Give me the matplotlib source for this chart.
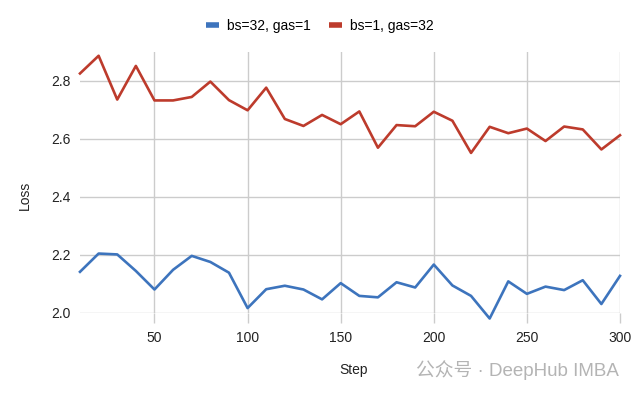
import matplotlib
matplotlib.use('Agg')
import matplotlib.pyplot as plt
from matplotlib.lines import Line2D

plt.rcParams['font.family'] = ['Liberation Sans', 'Noto Sans CJK SC', 'DejaVu Sans']

# 数据
steps = list(range(10, 301, 10))
loss_bs32 = [2.142, 2.205, 2.202, 2.145, 2.081, 2.149, 2.197, 2.176, 2.139, 2.017,
             2.082, 2.094, 2.081, 2.047, 2.103, 2.059, 2.054, 2.106, 2.088, 2.167,
             2.095, 2.059, 1.981, 2.109, 2.066, 2.091, 2.079, 2.113, 2.031, 2.128]
loss_bs1 = [2.826, 2.887, 2.736, 2.852, 2.733, 2.733, 2.745, 2.798, 2.734, 2.699,
            2.777, 2.669, 2.645, 2.683, 2.651, 2.695, 2.570, 2.648, 2.644, 2.694,
            2.663, 2.552, 2.642, 2.620, 2.636, 2.593, 2.643, 2.633, 2.564, 2.613]
labels = ['bs=32, gas=1', 'bs=1, gas=32']
x_ticks = [50, 100, 150, 200, 250, 300]
y_ticks = [2.0, 2.2, 2.4, 2.6, 2.8]

blue = '#3d74bd'
red = '#bd3b2c'
grid_c = '#cccccc'

fig = plt.figure(figsize=(6.4, 3.96), dpi=100)
ax = fig.add_axes([80 / 640, 1 - 313 / 396, 540 / 640, 261 / 396])

ax.plot(steps, loss_bs32, color=blue, lw=1.9, clip_on=False, zorder=3)
ax.plot(steps, loss_bs1, color=red, lw=1.9, clip_on=False, zorder=3)

ax.set_xlim(10, 300)
ax.set_ylim(2.0, 2.9)
ax.set_xticks(x_ticks)
ax.set_yticks(y_ticks)
ax.set_yticklabels(['%.1f' % v for v in y_ticks])
ax.grid(True, color=grid_c, lw=1)
ax.set_axisbelow(True)
for s in ax.spines.values():
    s.set_visible(False)
ax.tick_params(axis='x', length=7, color=grid_c, width=1, pad=6,
               labelsize=10, labelcolor='#222222')
ax.tick_params(axis='y', length=0, pad=7, labelsize=10, labelcolor='#222222')

fig.text(25 / 640, 1 - 195 / 396, 'Loss', rotation=90, ha='center', va='center',
         fontsize=10, color='#222222')
fig.text(354 / 640, 1 - 370 / 396, 'Step', ha='center', va='center',
         fontsize=10, color='#222222')

# 水印
fig.text(619 / 640, 1 - 370 / 396, '公众号 · DeepHub IMBA', ha='right', va='center',
         fontsize=13.5, color='#b4b4b4')

handles = [Line2D([], [], color=blue, lw=4, solid_capstyle='butt'),
           Line2D([], [], color=red, lw=4, solid_capstyle='butt')]
fig.legend(handles, labels, loc='center', bbox_to_anchor=(0.5, 1 - 26 / 396),
           ncol=2, frameon=False, fontsize=10, handlelength=0.9,
           handletextpad=0.6, columnspacing=1.3)

fig.savefig('out.png', dpi=100)
